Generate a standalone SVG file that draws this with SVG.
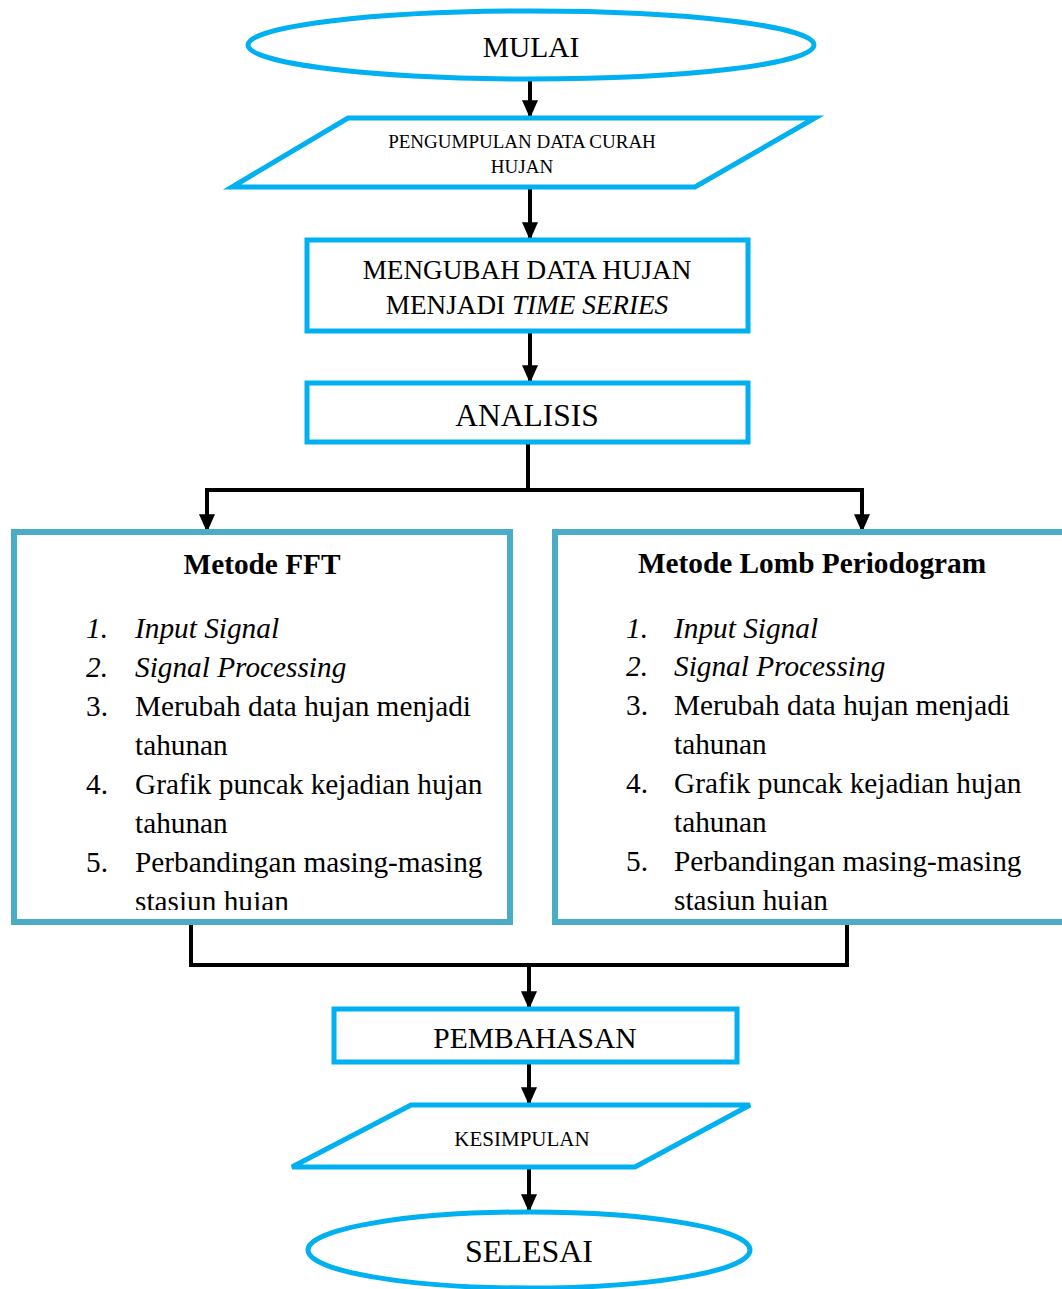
<svg xmlns="http://www.w3.org/2000/svg" width="1062" height="1289" viewBox="0 0 1062 1289">
<style>
.b{fill:#fff;stroke:#00B0F0;stroke-width:5}
.m{fill:#fff;stroke:#4BACC6;stroke-width:6}
.c{fill:none;stroke:#000;stroke-width:4}
text{font-family:"Liberation Serif","Times New Roman",serif;fill:#000}
.t{text-anchor:middle}
.i{font-style:italic}
.l{font-size:29.3px}
</style>
<defs>
<marker id="ah" markerWidth="5" markerHeight="4" refX="4.2" refY="2" orient="auto" markerUnits="strokeWidth">
<path d="M0,0 L4.5,2 L0,4 Z" fill="#000"/>
</marker>
<clipPath id="cl"><rect x="17" y="535" width="490" height="375"/></clipPath>
<clipPath id="cr"><rect x="558" y="535" width="504" height="375"/></clipPath>
</defs>
<g id="connectors">
<path class="c" d="M530,80 V117" marker-end="url(#ah)"/>
<path class="c" d="M530,187 V239" marker-end="url(#ah)"/>
<path class="c" d="M530,331 V382" marker-end="url(#ah)"/>
<path class="c" d="M528,442 V490 H207 V531" marker-end="url(#ah)"/>
<path class="c" d="M528,490 H862 V531" marker-end="url(#ah)"/>
<path class="c" d="M191,922 V965 H847 V922"/>
<path class="c" d="M529,965 V1008" marker-end="url(#ah)"/>
<path class="c" d="M529,1062 V1104" marker-end="url(#ah)"/>
<path class="c" d="M529,1167 V1211" marker-end="url(#ah)"/>
</g>
<g id="mulai">
<ellipse class="b" cx="531" cy="45" rx="283" ry="34"/>
<text class="t" x="531" y="57" font-size="29.5">MULAI</text>
</g>
<g id="pengumpulan">
<polygon class="b" points="348,118 815,118 695,187 232,187"/>
<text class="t" x="522" y="148" font-size="19">PENGUMPULAN DATA CURAH</text>
<text class="t" x="522" y="173" font-size="19">HUJAN</text>
</g>
<g id="mengubah">
<rect class="b" x="307" y="240" width="441" height="91"/>
<text class="t" x="527" y="279" font-size="27.2">MENGUBAH DATA HUJAN</text>
<text class="t" x="527" y="314" font-size="27.2">MENJADI <tspan class="i">TIME SERIES</tspan></text>
</g>
<g id="analisis">
<rect class="b" x="307" y="383" width="441" height="59"/>
<text class="t" x="527" y="426" font-size="31.5">ANALISIS</text>
</g>
<g id="fft">
<rect class="m" x="14" y="532" width="496" height="390"/>
<text class="t" x="262" y="574" font-size="29.3" font-weight="bold">Metode FFT</text>
<g clip-path="url(#cl)" class="l">
<text class="i" x="86" y="638">1.</text><text class="i" x="135" y="638">Input Signal</text>
<text class="i" x="86" y="677">2.</text><text class="i" x="135" y="677">Signal Processing</text>
<text x="86" y="716">3.</text><text x="135" y="716">Merubah data hujan menjadi</text>
<text x="135" y="755">tahunan</text>
<text x="86" y="794">4.</text><text x="135" y="794">Grafik puncak kejadian hujan</text>
<text x="135" y="833">tahunan</text>
<text x="86" y="872">5.</text><text x="135" y="872">Perbandingan masing-masing</text>
<text x="135" y="911">stasiun hujan</text>
</g>
</g>
<g id="lomb">
<rect class="m" x="555" y="532" width="512" height="390"/>
<text class="t" x="812" y="573" font-size="29.3" font-weight="bold">Metode Lomb Periodogram</text>
<g clip-path="url(#cr)" class="l">
<text class="i" x="626" y="638">1.</text><text class="i" x="674" y="638">Input Signal</text>
<text class="i" x="626" y="676">2.</text><text class="i" x="674" y="676">Signal Processing</text>
<text x="626" y="715">3.</text><text x="674" y="715">Merubah data hujan menjadi</text>
<text x="674" y="754">tahunan</text>
<text x="626" y="793">4.</text><text x="674" y="793">Grafik puncak kejadian hujan</text>
<text x="674" y="832">tahunan</text>
<text x="626" y="871">5.</text><text x="674" y="871">Perbandingan masing-masing</text>
<text x="674" y="910">stasiun hujan</text>
</g>
</g>
<g id="pembahasan">
<rect class="b" x="334" y="1009" width="403" height="53"/>
<text class="t" x="535" y="1048" font-size="29.5">PEMBAHASAN</text>
</g>
<g id="kesimpulan">
<polygon class="b" points="411,1105 750,1105 635,1167 292,1167"/>
<text class="t" x="522" y="1146" font-size="21">KESIMPULAN</text>
</g>
<g id="selesai">
<ellipse class="b" cx="529" cy="1250" rx="221" ry="38"/>
<text class="t" x="529" y="1262" font-size="32">SELESAI</text>
</g>
</svg>
